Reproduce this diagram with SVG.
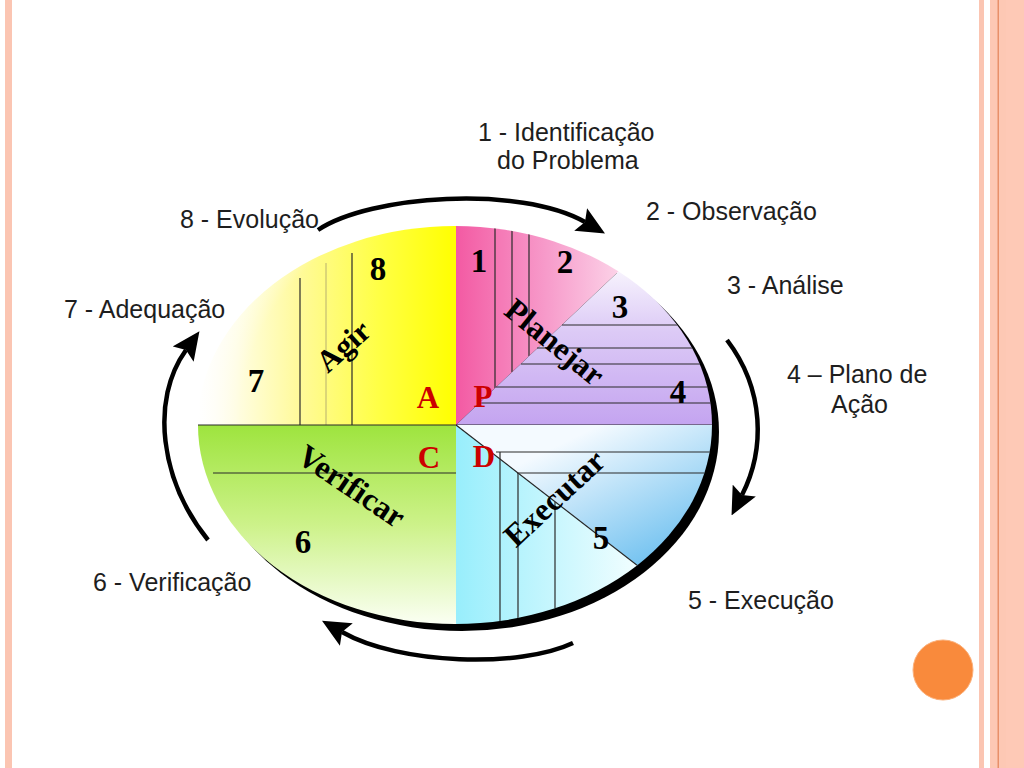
<svg xmlns="http://www.w3.org/2000/svg" width="1024" height="768" viewBox="0 0 1024 768">
  <style>
    .lbl { font-family: "Liberation Sans", Arial, sans-serif; font-size: 25px; fill: #1e1e1e; }
    .num { font-family: "Liberation Serif", "Times New Roman", serif; font-size: 33px; font-weight: bold; fill: #000; text-anchor: middle; }
    .pdca { font-family: "Liberation Serif", "Times New Roman", serif; font-size: 31px; font-weight: bold; fill: #cc0000; text-anchor: middle; }
    .word { font-family: "Liberation Serif", "Times New Roman", serif; font-weight: bold; fill: #000; text-anchor: middle; }
    .ln { stroke: #2a2a2a; stroke-width: 1.2; fill: none; }
    .lnl { stroke: #b8b070; stroke-width: 1; fill: none; }
    .arrow { fill: none; stroke: #000; stroke-width: 4.5; marker-end: url(#head); }
  </style>
  <defs>
    <clipPath id="ell"><ellipse cx="455" cy="425" rx="257" ry="199"/></clipPath>
    <marker id="head" markerUnits="userSpaceOnUse" markerWidth="28" markerHeight="26" viewBox="0 0 28 26" refX="5" refY="13" orient="auto">
      <path d="M0,0 L28,13 L0,26 L5,13 z" fill="#000"/>
    </marker>
    <linearGradient id="gYel" gradientUnits="userSpaceOnUse" x1="198" y1="0" x2="456" y2="0">
      <stop offset="0" stop-color="#ffffff"/>
      <stop offset="0.15" stop-color="#fffde2"/>
      <stop offset="0.4" stop-color="#fffa98"/>
      <stop offset="0.7" stop-color="#ffff45"/>
      <stop offset="1" stop-color="#ffff00"/>
    </linearGradient>
    <radialGradient id="gFade" gradientUnits="userSpaceOnUse" cx="456" cy="425" r="270">
      <stop offset="0.8" stop-color="#ffffff" stop-opacity="0"/>
      <stop offset="1" stop-color="#ffffff" stop-opacity="0.8"/>
    </radialGradient>
    <linearGradient id="gPink" gradientUnits="userSpaceOnUse" x1="456" y1="0" x2="640" y2="0">
      <stop offset="0" stop-color="#f35aa3"/>
      <stop offset="0.5" stop-color="#f79ccb"/>
      <stop offset="1" stop-color="#fde2f0"/>
    </linearGradient>
    <linearGradient id="gPur" gradientUnits="userSpaceOnUse" x1="0" y1="270" x2="0" y2="425">
      <stop offset="0" stop-color="#f7f3fd"/>
      <stop offset="0.4" stop-color="#dccaf6"/>
      <stop offset="1" stop-color="#c4a4f0"/>
    </linearGradient>
    <linearGradient id="gBlue" gradientUnits="userSpaceOnUse" x1="600" y1="425" x2="680" y2="590">
      <stop offset="0" stop-color="#f4faff"/>
      <stop offset="1" stop-color="#52b4ec"/>
    </linearGradient>
    <linearGradient id="gCyan" gradientUnits="userSpaceOnUse" x1="456" y1="0" x2="640" y2="0">
      <stop offset="0" stop-color="#98eefc"/>
      <stop offset="1" stop-color="#f2feff"/>
    </linearGradient>
    <linearGradient id="gGreen" gradientUnits="userSpaceOnUse" x1="0" y1="425" x2="0" y2="625">
      <stop offset="0" stop-color="#9ee43e"/>
      <stop offset="0.5" stop-color="#cdf28a"/>
      <stop offset="1" stop-color="#fbfff4"/>
    </linearGradient>
  </defs>

  <rect width="1024" height="768" fill="#ffffff"/>
  <g id="border">
    <rect x="5" y="0" width="7" height="768" fill="#fbc5b2"/>
    <rect x="979" y="0" width="5" height="768" fill="#fbc5b2"/>
    <rect x="990" y="0" width="34" height="768" fill="#fdc8b4"/>
    <rect x="1006" y="0" width="18" height="768" fill="#fec9b6"/>
    <rect x="997.5" y="0" width="1.5" height="768" fill="#e8906a"/>
  </g>

  <g id="ellipse-shadow">
    <ellipse cx="462" cy="432" rx="257" ry="199" fill="#000"/>
  </g>

  <g id="node-agir" clip-path="url(#ell)">
    <rect x="190" y="220" width="266" height="205" fill="url(#gYel)"/>
    <line class="ln" x1="300" y1="278" x2="300" y2="425"/>
    <line class="lnl" x1="326" y1="263" x2="326" y2="425"/>
    <line class="ln" x1="352" y1="253" x2="352" y2="425"/>
    <rect x="190" y="220" width="266" height="205" fill="url(#gFade)"/>
  </g>
  <g id="node-planejar-1-2" clip-path="url(#ell)">
    <polygon points="456,425 456,220 673,220" fill="url(#gPink)"/>
    <line class="ln" x1="495" y1="220" x2="495" y2="388"/>
    <line class="ln" x1="512" y1="220" x2="512" y2="372"/>
    <line class="ln" x1="529" y1="220" x2="529" y2="356"/>
  </g>
  <g id="node-planejar-3-4" clip-path="url(#ell)">
    <polygon points="456,425 673,220 730,220 730,425" fill="url(#gPur)"/>
    <line class="ln" x1="562" y1="325" x2="730" y2="325"/>
    <line class="ln" x1="537" y1="348" x2="730" y2="348"/>
    <line class="ln" x1="521" y1="364" x2="730" y2="364"/>
    <line class="ln" x1="496" y1="387" x2="730" y2="387"/>
    <line class="ln" x1="479" y1="403" x2="730" y2="403"/>
    <line class="ln" x1="456" y1="425" x2="730" y2="425"/>
  </g>
  <g id="node-executar" clip-path="url(#ell)">
    <polygon points="456,425 740,425 740,645" fill="url(#gBlue)"/>
    <polygon points="456,425 740,645 456,645" fill="url(#gCyan)"/>
    <line class="ln" x1="456" y1="425" x2="740" y2="645"/>
    <line class="ln" x1="496" y1="452" x2="740" y2="452"/>
    <line class="ln" x1="517" y1="473" x2="740" y2="473"/>
    <line class="ln" x1="500" y1="452" x2="500" y2="645"/>
    <line class="ln" x1="518" y1="473" x2="518" y2="645"/>
    <line class="ln" x1="555" y1="502" x2="555" y2="645"/>
  </g>
  <g id="node-verificar" clip-path="url(#ell)">
    <rect x="190" y="425" width="266" height="220" fill="url(#gGreen)"/>
    <line class="ln" x1="190" y1="425" x2="456" y2="425"/>
    <line class="ln" x1="213" y1="473" x2="456" y2="473"/>
  </g>

  <g id="labels-inner">
    <text class="num" x="479" y="272">1</text>
    <text class="num" x="565" y="273">2</text>
    <text class="num" x="620" y="318">3</text>
    <text class="num" x="678" y="403">4</text>
    <text class="num" x="601" y="549">5</text>
    <text class="num" x="303" y="553">6</text>
    <text class="num" x="256" y="392">7</text>
    <text class="num" x="378" y="280">8</text>
    <text class="pdca" x="428" y="408">A</text>
    <text class="pdca" x="483" y="407">P</text>
    <text class="pdca" x="429" y="468">C</text>
    <text class="pdca" x="484" y="467">D</text>
    <text class="word" font-size="31" transform="translate(344,347) rotate(-42)" dy="0.3em">Agir</text>
    <text class="word" font-size="32" transform="translate(554,343) rotate(39)" dy="0.3em">Planejar</text>
    <text class="word" font-size="32" transform="translate(351,487) rotate(34)" dy="0.3em">Verificar</text>
    <text class="word" font-size="32" transform="translate(555,499) rotate(-43)" dy="0.3em">Executar</text>
  </g>

  <g id="connectors">
    <path class="arrow" d="M318,230 C370,195 520,185 585,222"/>
    <path class="arrow" d="M727,340 C765,390 765,450 742,495"/>
    <path class="arrow" d="M573,643 C520,668 400,665 342,632"/>
    <path class="arrow" d="M208,540 C160,480 150,400 186,350"/>
  </g>

  <g id="labels-outer">
    <text class="lbl" x="478" y="141">1 - Identificação</text>
    <text class="lbl" x="497" y="169">do Problema</text>
    <text class="lbl" x="646" y="220">2 - Observação</text>
    <text class="lbl" x="180" y="228">8 - Evolução</text>
    <text class="lbl" x="727" y="294">3 - Análise</text>
    <text class="lbl" x="64" y="318">7 - Adequação</text>
    <text class="lbl" x="787" y="383">4 – Plano de</text>
    <text class="lbl" x="831" y="413">Ação</text>
    <text class="lbl" x="93" y="591">6 - Verificação</text>
    <text class="lbl" x="688" y="609">5 - Execução</text>
  </g>

  <g id="decor-circle">
    <circle cx="943" cy="670" r="30" fill="#f98a3c" stroke="#fbb07a" stroke-width="1"/>
  </g>
</svg>
